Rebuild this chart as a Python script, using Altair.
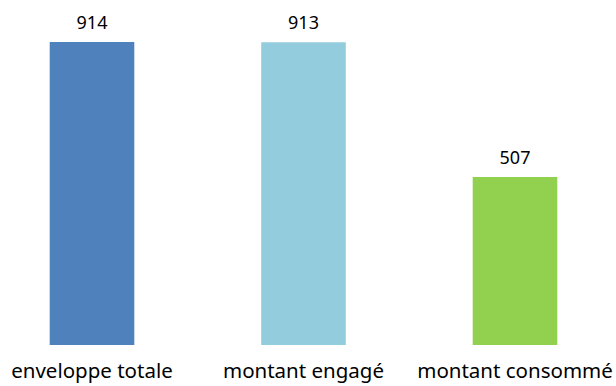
import altair as alt
import pandas as pd

categories = ["enveloppe totale", "montant engagé", "montant consommé"]
values = [914, 913, 507]
colors = ["#4F81BD", "#93CDDD", "#92D050"]

df = pd.DataFrame({"cat": categories, "val": values, "col": colors})

x = alt.X("cat:N", sort=categories,
          scale=alt.Scale(range=[-13.75, 620.75], paddingInner=0.6, paddingOuter=0.3),
          axis=None)
y = alt.Y("val:Q", scale=alt.Scale(domain=[0, 914], range=[345, 42]), axis=None)

base = alt.Chart(df)

bars = base.mark_bar().encode(
    x=x, y=y,
    color=alt.Color("col:N", scale=None),
)

vals = base.mark_text(baseline="middle", dy=-18, fontSize=18, font="Noto Sans", color="#000000").encode(
    x=x, y=y, text=alt.Text("val:Q")
)

labels = base.mark_text(baseline="middle", fontSize=20.5, font="Noto Sans", color="#000000").encode(
    x=x, y=alt.value(372), text="cat:N"
)

chart = (bars + vals + labels).properties(
    width=616, height=386, padding=0, autosize=alt.AutoSizeParams(type="none")
).configure_view(stroke=None)

chart.save("out.html", embed_options={"renderer": "svg", "actions": False})
